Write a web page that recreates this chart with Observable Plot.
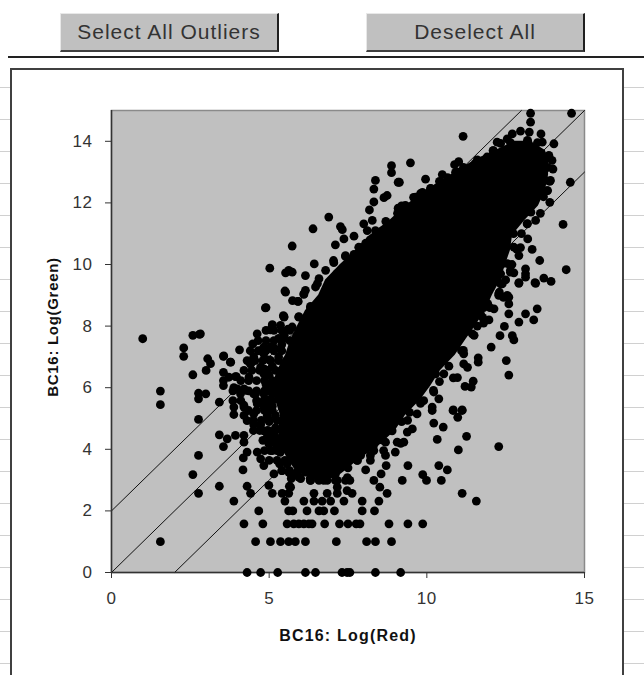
<!DOCTYPE html>
<html>
<head>
<meta charset="utf-8">
<script src="https://cdn.jsdelivr.net/npm/d3@7"></script>
<script src="https://cdn.jsdelivr.net/npm/@observablehq/plot@0.6"></script>
<style>
html,body{margin:0;padding:0;background:#fff;overflow:hidden}
#page{position:relative;width:644px;height:675px;overflow:hidden;font-family:"Liberation Sans",Arial,sans-serif}
.btn{position:absolute;top:13px;height:36px;width:216px;background:#c0c0c0;border-top:1px solid #e8e8e8;border-left:1px solid #e8e8e8;border-right:2px solid #202020;border-bottom:2px solid #404040;text-align:center;line-height:36px;font-size:21px;letter-spacing:1px;color:#333}
#rule{position:absolute;left:8px;right:0;top:56px;height:2px;background:#222}
#sheet{position:absolute;left:0;right:0;top:68px;bottom:0;background-image:repeating-linear-gradient(to bottom,transparent 0,transparent 19px,#d0d0d0 19px,#d0d0d0 20px,transparent 20px,transparent 32px);background-size:100% 32px}
#frame{position:absolute;left:10px;width:610px;top:68px;bottom:-4px;border:2px solid #404040;background:#fff}
#chart{position:absolute;left:0;top:68px}
#chart svg{background:transparent;font-family:"Liberation Sans",Arial,sans-serif}
#chart [aria-label="x-axis label"]{font-weight:bold;font-size:16px;letter-spacing:1.2px;fill:#111}
#chart [aria-label="y-axis label"]{font-weight:bold;font-size:15px;letter-spacing:.7px;fill:#111;transform:translate(-64px,-14px)}
#chart [aria-label="x-axis tick label"],#chart [aria-label="y-axis tick label"]{font-size:17px;letter-spacing:.6px;fill:#333}
</style>
</head>
<body>
<div id="page">
<div class="btn" style="left:60px">Select All Outliers</div>
<div class="btn" style="left:366px">Deselect All</div>
<div id="rule"></div>
<div id="sheet"></div>
<div id="frame"></div>
<div id="chart"></div>
</div>
<script>
const xTicks = [0, 5, 10, 15];
const yTicks = [0, 2, 4, 6, 8, 10, 12, 14];
const xLabel = "BC16: Log(Red)";
const yLabel = "BC16: Log(Green)";

// Three guide lines: Green = Red + 2, Green = Red, Green = Red - 2
const guideUpper = [[0, 2], [13, 15]];
const guideMiddle = [[0, 0], [15, 15]];
const guideLower = [[2, 0], [15, 13]];

// Saturated centre of the cloud, where single points cannot be told apart:
// for each Log(Green) level, the Log(Red) range that is solid black.
const coreGreen = [3.05,3.3,3.65,4.1,4.6,5.1,5.6,6.05,6.55,7.05,7.55,8.0,8.5,9.0,9.5,10.0,10.45,10.95,11.45,11.9,12.4,12.9,13.4,13.7,14.0];
const coreRedLow = [6.31,5.84,5.61,5.36,5.3,5.36,5.2,5.1,5.26,5.52,5.68,5.9,6.15,6.57,6.79,7.26,7.74,8.21,8.85,9.32,9.96,10.75,11.54,12.18,12.81];
const coreRedHigh = [7.1,7.42,7.83,8.47,9.0,9.32,9.8,10.12,10.43,10.9,11.23,11.54,11.86,12.08,12.34,12.5,12.65,12.72,13.13,13.54,13.76,13.86,13.86,13.76,13.29];

// Points on the quantised low-intensity rows
const floorRows = [
[4.3,0],[4.73,0],[5.27,0],[6.15,0],[6.47,0],[7.31,0],[7.47,0],[7.56,0],[8.37,0],[9.17,0],
[1.55,1],[4.57,1],[5.04,1],[5.36,1],[5.62,1],[5.83,1],[6.15,1],[7.13,1],[8.09,1],[8.37,1],[8.88,1],
[4.2,1.58],[4.8,1.58],[5.57,1.58],[5.78,1.58],[5.94,1.58],[6.1,1.58],[6.26,1.58],[6.36,1.58],[6.76,1.58],[7.23,1.58],[7.5,1.58],[7.76,1.58],[7.88,1.58],[8.8,1.58],[9.4,1.58],[9.87,1.58],
[4.67,2],[5.62,2],[5.75,2],[6.2,2],[6.58,2],[6.73,2],[7.07,2],[7.95,2],[8.34,2],
[3.88,2.32],[5.5,2.32],[6.1,2.32],[6.42,2.32],[6.68,2.32],[6.95,2.32],[7.37,2.32],[7.95,2.32],[8.48,2.32],[11.57,2.32],
[2.76,2.57],[4.41,2.57],[5.1,2.57],[5.41,2.57],[5.62,2.57],[6.42,2.57],[6.84,2.57],[7.16,2.57],[7.63,2.57],[8.74,2.57],[11.12,2.57]
];

const lowerLeft = [
[0.99,7.59],[2.58,7.7],[2.79,7.73],[2.29,7.29],[2.29,7.02],[3.05,6.94],[3.14,6.78],[3.0,6.56],[2.58,6.42],[3.55,7.02],[3.78,6.83],[3.55,6.5],[3.55,6.23],[3.72,6.34],[3.96,6.36],[3.55,6.07],
[1.55,5.89],[1.55,5.45],[2.76,5.82],[2.99,5.8],[2.76,5.64],[3.42,5.53],[3.88,6.0],[4.2,5.96],[4.09,5.8],[4.57,5.8],[4.83,5.58],[3.88,5.37],[3.88,5.13],[4.2,5.37],[4.2,5.1],[2.76,4.97],
[3.42,4.47],[3.67,4.34],[3.93,4.45],[4.2,4.45],[4.2,4.23],[3.55,4.09],[4.3,3.91],[4.18,3.72],[4.62,3.91],[4.73,3.69],[4.83,3.47],[2.76,3.8],[4.17,3.33],[2.58,3.18],[3.42,2.8],[4.3,2.8],[4.99,2.83],[5.15,3.2],[5.33,3.53],
[5.64,2.8],[5.68,3.2],[5.89,3.2],[4.99,4.18],[5.2,4.18],[5.04,3.96],[5.25,3.96],[4.94,4.4],[4.73,7.2],[5.15,7.3],[5.36,7.26],[4.41,6.77],[4.36,6.34],[4.83,7.1],[4.51,7.0],[4.83,6.45],[4.94,5.9],[4.51,5.15],[4.51,4.8],[4.73,4.8],[4.94,5.1],[4.94,5.37],[4.83,4.6],
[4.3,4.93],[4.5,4.61],[5.36,4.29],[5.1,4.39],[5.57,3.53],[5.41,3.31],[5.62,3.26],[5.89,3.26],[6.15,3.26],[6.31,2.99],[6.58,2.99],[6.84,2.99],[7.16,2.99],[7.42,2.99],[6.42,3.15],[5.94,3.1],[7.16,2.77],[7.47,2.66],
[5.3,7.0],[5.0,6.9],[4.85,6.6],[5.0,6.4],[4.9,6.1],[5.1,6.1],[5.1,5.8],[4.95,5.6],[5.1,5.4],[5.2,5.1],[5.0,4.9],[5.2,4.7],[5.0,4.6],[5.2,4.4],[5.35,4.2],[5.35,3.9],[5.1,6.7],[5.4,7.4],[5.6,7.9],[5.3,7.6],
[3.77,6.83],[4.41,6.78],[4.73,6.67],[3.93,6.36],[3.98,5.96],[4.25,5.91],[4.51,5.8],[4.83,5.8],[4.62,5.48],[4.83,5.37],[4.2,5.43]
];

// Crowded band between the saturated centre and the scattered left-hand points
const leftBand = [
[4.9,7.86],[5.15,7.86],[5.4,7.86],[5.65,7.86],
[4.65,7.53],[4.9,7.53],[5.15,7.53],[5.4,7.53],[5.65,7.53],
[4.4,7.2],[4.65,7.2],[4.9,7.2],[5.15,7.2],[5.4,7.2],
[4.3,6.88],[4.55,6.88],[4.8,6.88],[5.05,6.88],[5.3,6.88],[5.55,6.88],
[4.2,6.56],[4.45,6.56],[4.7,6.56],[4.95,6.56],[5.2,6.56],
[4.1,6.23],[4.35,6.23],[4.6,6.23],[4.85,6.23],[5.1,6.23],
[3.85,5.9],[4.1,5.9],[4.35,5.9],[4.6,5.9],[4.85,5.9],[5.1,5.9],
[3.85,5.58],[4.1,5.58],[4.6,5.58],[4.85,5.58],[5.1,5.58],
[4.35,5.26],[4.6,5.26],[4.85,5.26],[5.1,5.26],
[4.5,4.94],[4.75,4.94],[5.0,4.94],[5.25,4.94],
[4.7,4.61],[4.95,4.61],[5.2,4.61],
[4.8,4.29],[5.05,4.29],[5.3,4.29],
[4.85,3.96],[5.1,3.96],[5.35,3.96],
[5.0,3.64],[5.25,3.64],[5.5,3.64],
[5.4,3.31],[5.65,3.31],[5.7,3.05],[6.0,3.05],[6.3,3.05]
];

// Points along the upper-left edge
const upperLeft = [
[6.89,11.54],[7.26,11.23],[7.32,11.13],[6.39,11.16],[7.69,10.92],[7.37,10.83],[7.1,10.64],[5.73,10.6],[8.0,11.32],[8.27,11.43],[8.11,11.1],[8.37,11.1],[8.76,11.21],[8.74,11.0],[8.06,10.69],[7.84,10.56],[7.42,10.26],[7.69,10.33],[7.05,10.06],[6.43,10.02],
[5.02,9.88],[5.52,9.73],[5.62,9.81],[5.73,9.75],[6.15,9.64],[7.14,9.7],[6.58,9.54],[6.47,9.27],[5.5,9.14],[6.1,9.05],[5.91,8.8],[4.9,8.6],[6.31,8.64],[7.05,9.27],[7.47,9.59],[5.47,8.31],[5.94,8.31],[6.2,8.24],[5.1,8.05],[5.04,7.88],[5.36,8.02],[4.62,7.75],[2.82,7.75],[5.73,7.97],[5.47,7.7],[6.2,7.75],[6.52,8.62],
[4.88,8.59],[5.52,9.1],[6.1,9.03],[5.92,8.8],[6.31,8.6],[5.47,8.29],[5.1,8.02],[5.94,8.29],[4.48,7.42],[4.06,7.23],[3.56,7.03],[4.83,7.32],[5.04,7.32],[5.47,7.7],
[8.88,13.21],[8.88,12.98],[9.48,13.3],[9.13,12.67],[9.96,12.77],[10.49,12.92],[10.12,12.46],[8.74,12.24],[8.64,12.17],[9.64,12.19],[9.19,11.84],[8.74,11.21],[8.79,11.05],[8.37,12.73],[8.32,12.45],[9.09,12.67],[8.32,12.03],[8.18,11.77],[9.09,11.83],
[6.7,8.9],[7.0,9.4],[7.4,9.9],[7.8,10.3],[8.2,10.8],[8.7,11.4],[9.2,11.9],[9.8,12.3],[10.4,12.7],[11.0,13.0],[11.6,13.4],[12.1,13.7],[12.7,13.9],[13.2,14.0],
[11.15,14.16],[11.01,13.34],[10.88,13.24],[11.91,13.49],[12.23,13.97],[12.55,14.08],[12.71,14.24],[12.97,14.33],[13.25,14.3],[13.29,14.62],[13.29,14.91],[14.59,14.91],[13.02,13.86],
[5.45,8.34],[5.74,8.83],[6.15,9.16],[6.53,9.38],[6.79,9.81],[7.04,10.13],[7.42,10.29],[7.9,10.55],[8.28,10.84],[8.6,11.1],[9.07,11.66],[9.32,11.92],[9.58,12.18],[9.86,12.34],[10.12,12.47],[10.43,12.66],[10.66,12.82],[10.91,12.99],[11.16,13.15],[11.54,13.28],[11.93,13.38],[12.11,13.7],[12.34,13.93],[12.65,13.96],[13.19,14.03],[13.51,13.96]
];

// Points along the right side
const rightSide = [
[13.62,14.24],[13.66,13.97],[14.03,13.92],[13.97,13.38],[13.87,13.54],[13.76,13.16],[14.55,12.67],[13.76,12.73],[13.81,12.4],[13.9,12.02],[14.32,11.3],[13.45,11.43],[13.18,11.32],[13.2,10.83],[13.34,10.49],[13.58,10.13],[12.92,10.29],[14.42,9.83],[13.13,9.86],[13.13,9.59],[12.92,9.41],[13.43,9.41],[13.71,9.56],[13.94,9.45],[12.65,9.81],[12.76,9.73],[12.39,10.02],[12.39,9.37],[12.28,9.05],[12.6,8.94],[12.34,9.7],[12.76,10.56],
[12.6,8.4],[12.92,8.13],[13.13,8.4],[13.39,8.2],[13.5,8.56],[12.46,7.99],[12.32,7.69],[12.71,7.69],[12.76,7.55],[12.04,7.32],[12.52,6.88],[11.63,6.97],[11.63,6.83],[12.6,6.41],[11.47,6.21],[11.21,6.04],[11.41,6.02],[10.84,6.32],[10.38,5.64],[10.17,5.37],[10.84,5.28],[11.12,5.28],
[12.92,9.39],[13.45,9.39],[12.34,9.37],[12.65,9.75],[13.13,9.7],[12.6,8.72],[12.55,9.0],[12.28,9.0],[12.13,8.56],[11.97,8.2],[11.17,6.77],[11.17,7.1],[10.22,5.86],[10.54,6.45],[10.28,6.45],[11.6,8.0],[11.7,8.4],[11.44,7.75],[11.8,8.6],
[10.4,6.2],[10.7,6.7],[11.1,7.2],[11.5,7.7],[11.8,8.1],[12.0,8.6],[12.3,9.1],[12.5,9.5],[12.7,10.0],[12.85,10.5],[13.0,11.0],[13.3,11.7],[13.7,12.2],[13.9,12.7],[14.0,13.1],
[13.83,13.15],[13.92,12.73],[13.83,12.4],[13.6,11.66],[13.19,11.33],[12.75,11.0],[12.97,10.55],[12.56,10.03],[12.24,9.58],[12.43,8.93],[11.93,8.73],[11.77,8.28],[11.16,7.76],[11.16,7.21],[11.29,6.66],[10.97,6.33],[10.21,6.46],[10.21,5.91],[9.8,5.49]
];

// Points along the lower-right edge
const lowerRight = [
[5.68,2.77],[8.51,2.77],[6.31,2.99],[6.73,2.99],[7.56,2.99],[8.32,2.99],[9.22,2.99],[9.99,2.99],[10.46,2.99],[8.55,3.2],[9.87,3.18],[8.06,3.33],[8.71,3.47],[9.4,3.47],[10.38,3.47],[10.65,3.33],[8.21,3.64],[8.69,3.8],[8.32,3.96],[9.0,3.91],[9.06,4.23],[11.0,3.98],[12.28,4.09],[10.33,4.32],[11.26,4.42],[10.52,4.72],[10.22,4.85],[9.38,4.56],[9.54,4.66],[8.69,4.23],[10.17,5.26],[10.83,5.26],[11.12,5.26],[10.98,5.04],[9.69,5.15],[9.27,4.23],[7.79,3.64],
[9.9,5.58],[9.45,5.2],[9.2,4.9],[8.9,4.6],[8.6,4.3],[8.3,4.1],[7.9,3.8],[7.5,3.4],[7.1,3.2],
[9.39,4.94],[9.17,4.19],[8.63,3.96],[8.21,3.8],[7.8,3.64],[7.48,3.08],[7.1,2.99]
];

const points = [...floorRows, ...lowerLeft, ...leftBand, ...upperLeft, ...rightSide, ...lowerRight];
const core = coreGreen.map((g, i) => ({green: g, low: coreRedLow[i], high: coreRedHigh[i]}));
const guideLine = (line) => Plot.line(line, {x: d => d[0], y: d => d[1], stroke: "#111", strokeWidth: 1});

const chart = Plot.plot({
  width: 644, height: 607,
  marginLeft: 111, marginRight: 60, marginTop: 42, marginBottom: 103,
  x: {domain: [0, 15]}, y: {domain: [0, 15]},
  style: {background: "transparent"},
  marks: [
    Plot.frame({fill: "#c0c0c0", stroke: "#8a8a8a", strokeWidth: 1.5}),
    guideLine(guideUpper),
    guideLine(guideMiddle),
    guideLine(guideLower),
    Plot.ruleX([0], {stroke: "#333", strokeWidth: 1.5}),
    Plot.ruleY([0], {stroke: "#333", strokeWidth: 1.5}),
    Plot.areaX(core, {x1: "low", x2: "high", y: "green", fill: "#000"}),
    Plot.dot(points, {x: d => d[0], y: d => d[1], r: 4.4, fill: "#000", stroke: "none"}),
    Plot.axisX({ticks: xTicks, tickSize: 6, tickPadding: 13, stroke: "#333", label: xLabel, labelAnchor: "center", labelOffset: 68, labelArrow: "none"}),
    Plot.axisY({ticks: yTicks, tickSize: 6, tickPadding: 13, stroke: "#333", label: yLabel, labelAnchor: "center", labelOffset: 64, labelArrow: "none"})
  ]
});
document.getElementById("chart").appendChild(chart);
</script>
</body>
</html>
